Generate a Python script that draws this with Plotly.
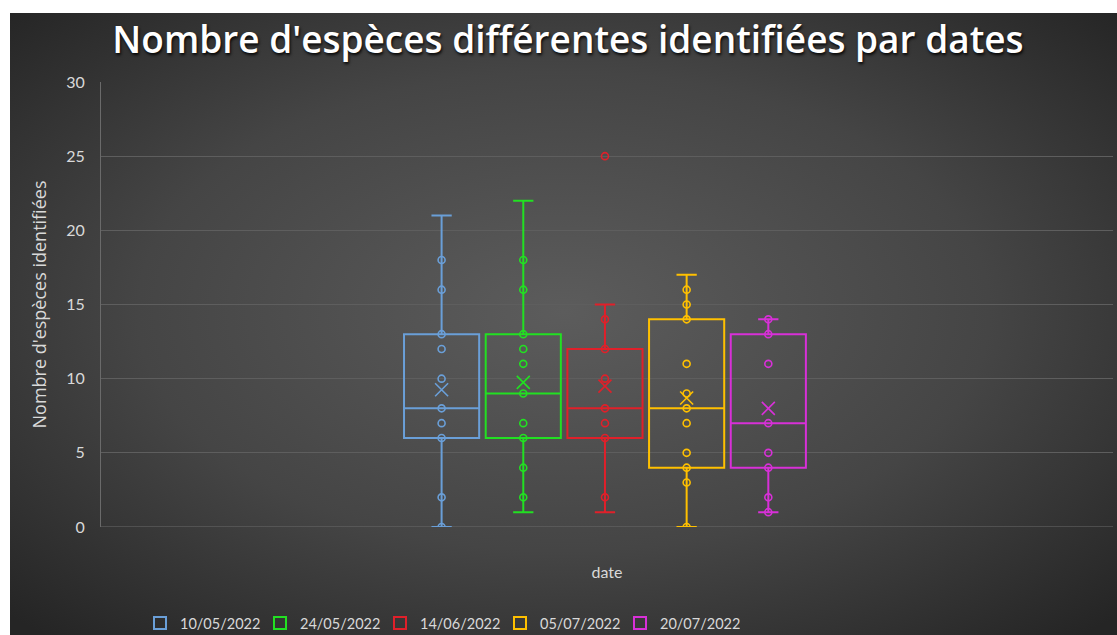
import base64
import plotly.graph_objects as go

# ---------------- data ----------------
dates = ["10/05/2022", "24/05/2022", "14/06/2022", "05/07/2022", "20/07/2022"]
colors = ["#6A9FD8", "#22E022", "#E0202A", "#FFC000", "#D830D8"]

q1 = [6, 6, 6, 4, 4]
median = [8, 9, 8, 8, 7]
q3 = [13, 13, 12, 14, 13]
lower_whisker = [0, 1, 1, 0, 1]
upper_whisker = [21, 22, 15, 17, 14]
means = [9.25, 9.75, 9.5, 8.7, 8.0]

points = [
    [0, 2, 6, 7, 8, 10, 12, 13, 16, 18],
    [2, 4, 6, 7, 9, 11, 12, 13, 16, 18],
    [2, 6, 7, 8, 10, 12, 14, 25],
    [0, 3, 4, 5, 7, 8, 9, 11, 14, 15, 16],
    [1, 2, 4, 5, 7, 11, 13, 14],
]

category_label = "date"
title_text = "Nombre d'espèces différentes identifiées par dates"
y_title = "Nombre d'espèces identifiées"

# ---------------- figure ----------------
FONT = "Lato, 'Open Sans', sans-serif"
TFONT = "'Open Sans', Lato, sans-serif"
W, H = 1117, 635
L, R, T, B = 101, 4, 82, 108
pw, ph = W - L - R, H - T - B

fig = go.Figure()

for i, d in enumerate(dates):
    fig.add_trace(go.Box(
        x=[i], q1=[q1[i]], median=[median[i]], q3=[q3[i]],
        lowerfence=[lower_whisker[i]], upperfence=[upper_whisker[i]],
        name=d, line=dict(color=colors[i], width=2),
        fillcolor="rgba(0,0,0,0)", width=0.92, whiskerwidth=0.27,
        boxpoints=False, legendgroup=d, showlegend=True, hoverinfo="skip",
    ))
    fig.add_trace(go.Scatter(
        x=[i] * len(points[i]), y=points[i], mode="markers",
        marker=dict(symbol="circle-open", size=7, color=colors[i],
                    line=dict(width=1.6, color=colors[i])),
        legendgroup=d, showlegend=False, hoverinfo="skip",
    ))
    fig.add_trace(go.Scatter(
        x=[i], y=[means[i]], mode="markers",
        marker=dict(symbol="x-thin-open", size=13, color=colors[i],
                    line=dict(width=1.6, color=colors[i])),
        legendgroup=d, showlegend=False, hoverinfo="skip",
    ))

# radial gradient background (Excel dark style)
svg = (
    '<svg xmlns="http://www.w3.org/2000/svg" width="1107" height="622" '
    'viewBox="0 0 1107 622" preserveAspectRatio="none">'
    '<defs><radialGradient id="g" cx="50%" cy="48%" r="70%">'
    '<stop offset="0" stop-color="#5c5c5c"/>'
    '<stop offset="0.55" stop-color="#454545"/>'
    '<stop offset="1" stop-color="#252525"/>'
    '</radialGradient></defs>'
    '<rect width="1107" height="622" fill="url(#g)"/></svg>'
)
src = "data:image/svg+xml;base64," + base64.b64encode(svg.encode()).decode()

x0 = (10 - L) / pw
ytop = (H - B - 13) / ph

fig.update_layout(
    width=W, height=H,
    margin=dict(l=L, r=R, t=T, b=B, autoexpand=False),
    paper_bgcolor="white",
    plot_bgcolor="rgba(0,0,0,0)",
    images=[dict(source=src, xref="paper", yref="paper", x=x0, y=ytop,
                 sizex=(W - 10) / pw, sizey=(H - 13) / ph,
                 xanchor="left", yanchor="top", sizing="stretch",
                 layer="below")],
    title=dict(text=title_text, x=568 / W, xanchor="center",
               y=1 - 40 / H, yanchor="middle", yref="container",
               font=dict(family=TFONT, size=37, color="white", weight=600,
                         shadow="1px 2px 3px rgba(0,0,0,0.9)")),
    showlegend=True,
    legend=dict(orientation="h", x=(140 - L) / pw, xanchor="left",
                yref="container", y=1 - 623 / H, yanchor="middle",
                font=dict(family=FONT, size=14.5, color="#d9d9d9"),
                bgcolor="rgba(0,0,0,0)", entrywidth=75, entrywidthmode="pixels",
                itemwidth=30),
    xaxis=dict(range=[-4.17, 8.22], tickvals=[2], ticktext=[""],
               showgrid=False, zeroline=False, showline=False,
               title=dict(text=category_label, standoff=39,
                          font=dict(family=FONT, size=16, color="#d9d9d9"))),
    yaxis=dict(range=[0, 30], dtick=5, showgrid=True, gridcolor="#5e5e5e",
               gridwidth=1, zeroline=False, showline=True, linecolor="#6a6a6a",
               linewidth=1, ticks="", ticklabelstandoff=12,
               tickfont=dict(family=FONT, size=16, color="#d9d9d9"),
               title=dict(text=y_title, standoff=14,
                          font=dict(family=TFONT, size=18, color="#d9d9d9"))),
    font=dict(family=FONT),
)
fig.add_hline(y=0, line=dict(color="#6a6a6a", width=1), layer="below")

fig.write_html("out.html", config={"displayModeBar": False},
               post_script="document.body.style.margin='0px';")
